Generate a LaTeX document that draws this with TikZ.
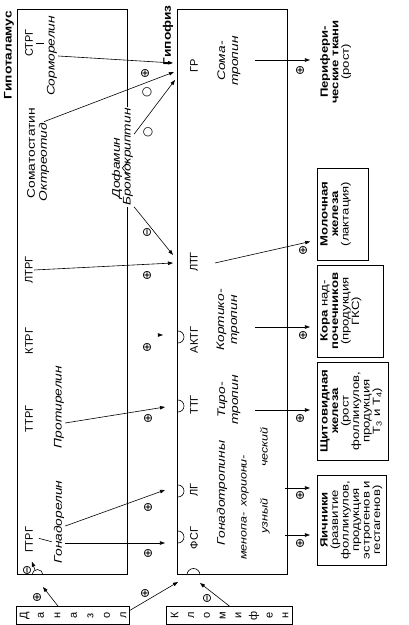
\documentclass[tikz,border=0pt]{standalone}
\usepackage{fontspec}
\setmainfont{Liberation Sans}[FakeStretch=1.25]
\newfontfamily\abbrfont{Liberation Sans}
\newfontfamily\symfont{DejaVu Sans}
\usetikzlibrary{arrows.meta, positioning}

\begin{document}
\begin{tikzpicture}[x=1pt, y=1pt, rotate=90, transform shape,
    % glands, labels and arrows
    gland/.style={draw, line width=0.8pt, minimum width=565pt, minimum height=110pt, anchor=south west, inner sep=0pt},
    organ/.style={draw, line width=0.7pt, anchor=north, align=center, inner xsep=1pt, inner ysep=3pt, font=\fontsize{10.5}{10.5}\selectfont},
    abbr/.style={font=\abbrfont\fontsize{11}{12}\selectfont, inner sep=1pt},
    plain/.style={font=\fontsize{11}{12}\selectfont, inner sep=1pt},
    drug/.style={font=\itshape\fontsize{11}{13}\selectfont, inner sep=1pt, align=center},
    title/.style={font=\bfseries\fontsize{11}{12}\selectfont, inner sep=1pt},
    letters/.style={draw, line width=0.7pt, align=center, inner sep=1pt, minimum width=18pt, anchor=south west, font=\abbrfont\fontsize{11}{#1}\selectfont},
    sign/.style={font=\symfont\fontsize{12}{12}\selectfont, inner sep=0pt},
    arr/.style={line width=0.6pt, -{Triangle[length=5pt, width=3.5pt]}}
]
\useasboundingbox (0,0) rectangle (625,409);

% the two glands
\node[gland] (hth) at (50,281) {};
\node[gland] (hyp) at (50,121) {};
\node[title, anchor=east] (hthTitle) at (615,400) {Гипоталамус};
\node[title, anchor=east] (hypTitle) at (621,241) {Гипофиз};

% receptors
\foreach \u in {88,134,219,288}
    \draw[line width=0.6pt] (\u-6,231) arc[start angle=180, end angle=360, radius=6];
\draw[line width=0.6pt] (50,222) arc[start angle=90, end angle=-90, radius=6.5];
\draw[line width=0.6pt] (50,377) arc[start angle=90, end angle=-90, radius=5.5];

% hypothalamus
\node[abbr] (strg) at (582,380) {СТРГ};
\node[drug] (sorm) at (569,357) {Сорморелин};
\node[plain] (somst) at (472,378) {Соматостатин};
\node[drug] (oktr) at (463,365) {Октреотид};
\node[drug] (dofa) at (457,292) {Дофамин};
\node[drug, fill=white] (bromo) at (468,281) {Бромокриптин};
\node[abbr] (ltrg) at (355,380) {ЛТРГ};
\node[abbr] (ktrg) at (284,380) {КТРГ};
\node[abbr] (ttrg) at (206,380) {ТТРГ};
\node[drug] (protir) at (218,350) {Протирелин};
\node[abbr] (gtrg) at (85,380) {ГТРГ};
\node[drug] (gonad) at (103,350) {Гонадорелин};
\draw[line width=0.6pt, shorten <=2pt, shorten >=2pt] (strg.south) -- (strg.south |- sorm.north);
\draw[line width=0.6pt, shorten <=5pt, shorten >=1pt] ([xshift=3pt]gtrg.south) -- ([xshift=-20pt]gonad.north);
\draw[line width=0.6pt] ([xshift=-7pt,yshift=-5pt]dofa.south) -- ([yshift=1pt]dofa.south) -- ([xshift=7pt,yshift=-5pt]dofa.south);

% hypophysis
\node[abbr] (gr) at (559,215) {ГР};
\node[abbr] (ltg) at (363,215) {ЛТГ};
\node[abbr] (actg) at (285,215) {АКТГ};
\node[abbr] (ttg) at (220,215) {ТТГ};
\node[abbr] (lg) at (135,215) {ЛГ};
\node[abbr] (fsg) at (87,215) {ФСГ};
\node[drug] (somatr) at (564,180) {Сома-\\тропин};
\node[drug] (kortik) at (305,181) {Кортико-\\тропин};
\node[drug] (tiro) at (225,180) {Тиро-\\тропин};
\node[drug] (gonadotr) at (132,187) {Гонадотропины};
\node[drug, align=left, anchor=north west, font=\itshape\fontsize{10}{12}\selectfont] (menop) at (64,169) {менопа-\\[9pt]\hspace*{26pt}узный};
\node[drug, align=left, anchor=north west, font=\itshape\fontsize{10}{12}\selectfont] (horion) at (117,169) {хориони-\\[9pt]\hspace*{40pt}ческий};

% target organs
\node[organ, draw=none] (periph) at (563,92) {\textbf{Перифери-}\\\textbf{ческие ткани}\\(рост)};
\node[organ, minimum width=92pt, text depth=17pt] (milk) at (411,92) {\textbf{Молочная}\\\textbf{железа}\\(лактация)};
\node[organ, minimum width=92pt, text depth=21pt] (kora) at (314,92) {\textbf{Кора} над-\\\textbf{почечников}\\(продукция\\ГКС)};
\node[organ, minimum width=98pt, text depth=5pt] (thyr) at (214,92) {\textbf{Щитовидная}\\\textbf{железа}\\(рост\\фолликулов,\\продукция\\Т\textsubscript{3} и Т\textsubscript{4})};
\node[organ, minimum width=90pt, text depth=3pt] (ovary) at (105,92) {\textbf{Яичники}\\(развитие\\фолликулов,\\продукция\\эстрогенов и\\гестагенов)};

% drugs
\node[letters=16.5pt, minimum height=113pt] (danazol) at (0,279) {Д\\а\\н\\а\\з\\о\\л};
\node[letters=15.7pt, minimum height=126pt] (klomif) at (0,116) {К\\л\\о\\м\\и\\ф\\е\\н};

% arrow ends
\coordinate (grA) at (562,236);
\coordinate (grB) at (553,235);
\coordinate (grC) at (545,234);
\coordinate (ltgA) at (370,236);
\coordinate (ltgB) at (362,236);
\coordinate (actgTip) at (290,246);
\coordinate (ttgTip) at (218,244);
\coordinate (lgTip) at (135,244);
\coordinate (fsgTip) at (82,244);
\coordinate (gtrgFrom) at (55,374);
\coordinate (hthIn) at (38,366);
\coordinate (hypIn) at (43,231);
\coordinate (hypRcp) at (42,209);
\coordinate (somOut) at (565,154);
\coordinate (ltgOut) at (362,194);
\coordinate (actOut) at (298,154);
\coordinate (ttgOut) at (215,154);
\coordinate (horOut) at (137,124);
\coordinate (menOut) at (90,124);

% hypothalamus -> hypophysis
\draw[arr] (sorm.south) -- (grA);
\draw[arr] (oktr.east) -- (grB);
\draw[arr] (bromo.-15) -- (grC);
\draw[arr] (bromo.south west) -- (ltgA);
\draw[arr] (ltrg.south) -- (ltgB);
\draw[arr] ([yshift=5pt]actgTip) -- (actgTip);
\draw[arr] ([xshift=-16pt]protir.south) -- (ttgTip);
\draw[arr] ([xshift=-4pt]gonad.south) -- (lgTip);
\draw[arr] ([xshift=-21pt]gonad.south) -- (fsgTip);
\draw[arr, shorten >=8pt] (gtrgFrom) -- (gtrg.west);

% drugs -> glands
\draw[arr] ([yshift=15pt]danazol.east) -- (hthIn);
\draw[arr] ([xshift=-4pt]danazol.south east) -- (hypIn);
\draw[arr] (klomif.east) -- (hypRcp);

% hypophysis -> organs
\draw[arr, shorten >=7pt] (somOut) -- (somOut |- periph.north);
\draw[arr, shorten >=7pt] (ltgOut) -- ([xshift=-26pt]milk.north);
\draw[arr, shorten >=7pt] (actOut) -- (actOut |- kora.north);
\draw[arr, shorten >=7pt] (ttgOut) -- (ttgOut |- thyr.north);
\draw[arr, shorten >=7pt] (horOut) -- (horOut |- ovary.north);
\draw[arr, shorten >=7pt] (menOut) -- (menOut |- ovary.north);

% effect signs
\foreach \u/\v/\s [count=\i] in {552/264/⊕, 533/262/○, 493/261/○, 393/262/⊖, 350/262/⊕,
    278/262/⊕, 207/261/⊕, 118/261/⊕, 72/261/⊕, 55/382/⊖, 28/372/⊕, 32/264/⊕, 27/202/⊖,
    555/109/⊕, 375/106/⊕, 290/106/⊕, 207/109/⊕, 130/109/⊕, 82/109/⊕}
    \node[sign] (sg\i) at (\u,\v) {\s};

\end{tikzpicture}
\end{document}
